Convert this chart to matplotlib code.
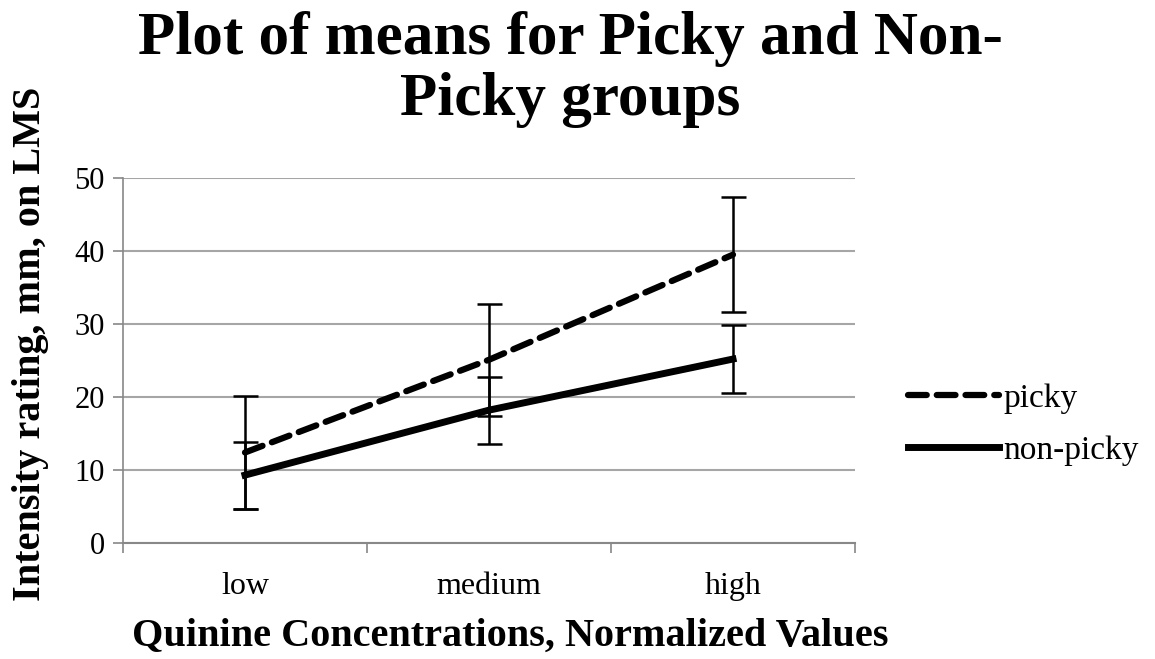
import matplotlib
matplotlib.use("Agg")
import matplotlib.pyplot as plt
from matplotlib.lines import Line2D
import numpy as np

# datos
niveles = ["low", "medium", "high"]
picky = [12.4, 25.1, 39.5]
picky_err = [7.8, 7.7, 7.9]
nonpicky = [9.3, 18.2, 25.2]
nonpicky_err = [4.6, 4.6, 4.6]

plt.rcParams['font.family'] = ['Liberation Serif', 'DejaVu Serif']

fig = plt.figure(figsize=(11.55, 6.59), dpi=100)
ax = fig.add_axes([123/1155, 1 - 543/659, (855-123)/1155, (543-178)/659])

x = np.arange(len(niveles))
estilo_picky = (0, (3, 1.6))
ax.errorbar(x, picky, yerr=picky_err, color='black', linestyle=estilo_picky,
            linewidth=4.5, dash_capstyle='round', ecolor='black', elinewidth=1.8,
            capsize=9, capthick=1.8, zorder=3)
ax.errorbar(x, nonpicky, yerr=nonpicky_err, color='black', linestyle='-',
            linewidth=5, ecolor='black', elinewidth=1.8, capsize=9,
            capthick=1.8, zorder=3)

ax.set_xlim(-0.5, 2.5)
ax.set_ylim(0, 50)
ax.set_yticks(range(0, 51, 10))
ax.set_xticks(x)
ax.set_xticklabels(niveles)
ax.set_xticks([-0.5, 0.5, 1.5, 2.5], minor=True)
ax.tick_params(axis='x', which='major', length=0, pad=21, labelsize=23)
ax.tick_params(axis='x', which='minor', length=7, width=1.2, color='#888888', direction='out')
ax.tick_params(axis='y', length=7, width=1.2, color='#888888', labelsize=22, pad=6)

ax.grid(axis='y', color='#a6a6a6', linewidth=1.5)
ax.set_axisbelow(True)
for s in ['top', 'right']:
    ax.spines[s].set_visible(False)
ax.spines['left'].set_color('#888888')
ax.spines['bottom'].set_color('#888888')
ax.spines['left'].set_linewidth(1.2)
ax.spines['bottom'].set_linewidth(1.5)

fig.text(0.494, 0.983, "Plot of means for Picky and Non-\nPicky groups", ha='center', va='top',
         fontsize=44, fontweight='bold', linespacing=1.12)
ax.set_ylabel("Intensity rating, mm, on LMS", fontsize=29, fontweight='bold', va='center')
ax.yaxis.set_label_coords(-0.127, 0.545)
ax.set_xlabel("Quinine Concentrations, Normalized Values", fontsize=29, fontweight='bold', va='center')
ax.xaxis.set_label_coords(0.529, -0.255)

manijas = [Line2D([], [], color='black', linewidth=4.5, linestyle=estilo_picky,
                  dash_capstyle='round'),
           Line2D([], [], color='black', linewidth=5, linestyle='-')]
ax.legend(manijas, ['picky', 'non-picky'], loc='center left', bbox_to_anchor=(1.072, 0.325),
          frameon=False, fontsize=24, handlelength=2.75, handletextpad=0.12,
          labelspacing=0.65, borderpad=0, borderaxespad=0)

fig.savefig("out.png", dpi=100)
